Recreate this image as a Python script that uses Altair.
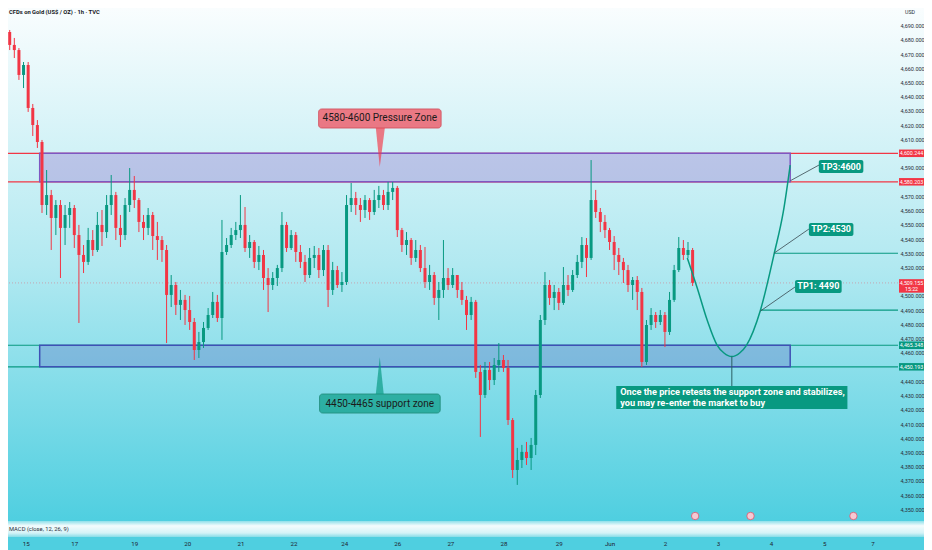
import altair as alt
import pandas as pd

# ---------------- price data: 2-hour candles, XAUUSD (TVC) ----------------
OPEN0 = 4679.9
CLOSE = [
    4685.5, 4676.4, 4672.8, 4655.3, 4662.3, 4632.1, 4620.1, 4608.2, 4563.9, 4570.9,
    4554.8, 4563.9, 4547.8, 4556.9, 4561.8, 4542.8, 4528.8, 4523.9, 4539.3, 4532.3,
    4549.9, 4544.9, 4563.9, 4570.9, 4547.8, 4542.8, 4563.9, 4574.5, 4567.4, 4552.0,
    4547.8, 4556.9, 4542.1, 4539.3, 4532.3, 4500.7, 4507.7, 4493.7, 4497.2, 4490.1,
    4481.7, 4462.0, 4467.6, 4477.5, 4486.6, 4495.8, 4484.5, 4530.9, 4535.8, 4542.8,
    4546.3, 4549.9, 4533.7, 4537.9, 4523.9, 4528.8, 4512.6, 4507.7, 4512.6, 4519.6,
    4549.9, 4533.7, 4542.8, 4530.9, 4523.9, 4514.7, 4526.7, 4528.8, 4518.2, 4532.3,
    4504.2, 4518.2, 4507.7, 4509.8, 4563.9, 4568.8, 4563.9, 4560.4, 4567.4, 4559.0,
    4567.4, 4570.9, 4563.9, 4573.1, 4575.9, 4546.3, 4535.8, 4539.3, 4526.7, 4532.3,
    4519.6, 4509.8, 4514.7, 4498.6, 4504.2, 4512.6, 4507.7, 4514.7, 4504.2, 4497.2,
    4486.6, 4495.8, 4446.6, 4430.4, 4448.0, 4440.9, 4451.5, 4455.0, 4449.4, 4412.8,
    4377.7, 4384.7, 4390.4, 4386.1, 4395.3, 4430.4, 4483.1, 4507.7, 4498.6, 4502.8,
    4495.1, 4507.7, 4504.2, 4514.7, 4523.9, 4535.8, 4526.7, 4567.4, 4559.0, 4552.0,
    4546.3, 4537.9, 4528.8, 4523.9, 4518.2, 4507.7, 4511.2, 4502.8, 4453.6, 4479.6,
    4486.6, 4481.7, 4486.6, 4474.7, 4497.2, 4518.2, 4533.7, 4528.8, 4532.3, 4509.2,
]
HIGH = [
    4689.0, 4686.9, 4681.3, 4674.2, 4664.4, 4664.4, 4634.9, 4623.6, 4609.6, 4588.5,
    4574.5, 4567.4, 4567.4, 4563.9, 4566.0, 4563.9, 4549.9, 4535.8, 4547.8, 4546.3,
    4559.0, 4560.4, 4570.9, 4585.0, 4573.1, 4556.9, 4568.8, 4589.9, 4584.3, 4568.8,
    4556.9, 4561.8, 4559.0, 4552.0, 4542.1, 4535.8, 4514.7, 4509.8, 4504.2, 4500.7,
    4500.0, 4484.5, 4474.7, 4481.7, 4491.5, 4502.8, 4500.7, 4553.4, 4540.7, 4547.8,
    4552.0, 4570.9, 4562.5, 4542.8, 4539.3, 4535.1, 4532.3, 4519.6, 4516.8, 4521.8,
    4559.0, 4552.0, 4546.3, 4544.9, 4535.8, 4528.8, 4533.7, 4535.1, 4533.7, 4535.8,
    4535.8, 4523.9, 4521.1, 4516.8, 4570.9, 4579.4, 4573.1, 4568.8, 4570.9, 4568.8,
    4574.5, 4577.3, 4574.5, 4580.1, 4580.1, 4577.3, 4547.8, 4544.9, 4540.7, 4539.3,
    4535.8, 4534.4, 4521.8, 4516.8, 4509.8, 4539.3, 4519.6, 4519.6, 4514.7, 4509.8,
    4500.0, 4499.3, 4497.2, 4451.5, 4453.6, 4453.6, 4456.4, 4466.9, 4458.5, 4455.0,
    4414.2, 4393.2, 4395.3, 4397.4, 4400.2, 4433.9, 4486.6, 4516.8, 4511.2, 4507.7,
    4505.6, 4520.3, 4514.7, 4518.2, 4528.8, 4541.4, 4540.7, 4595.5, 4574.5, 4561.8,
    4556.9, 4547.8, 4542.1, 4533.7, 4526.7, 4521.8, 4513.3, 4514.0, 4505.6, 4483.1,
    4491.5, 4488.7, 4490.1, 4488.7, 4502.8, 4521.8, 4541.4, 4539.3, 4537.9, 4533.7,
]
LOW = [
    4678.5, 4672.8, 4667.2, 4651.8, 4646.1, 4629.3, 4612.4, 4604.0, 4558.3, 4556.9,
    4532.3, 4542.8, 4512.6, 4535.8, 4547.8, 4533.7, 4481.0, 4516.1, 4521.8, 4528.1,
    4530.9, 4535.1, 4540.7, 4556.9, 4539.3, 4534.4, 4539.3, 4559.0, 4561.8, 4544.9,
    4539.3, 4542.8, 4532.3, 4525.3, 4523.9, 4466.9, 4492.2, 4486.6, 4483.1, 4479.6,
    4476.1, 4455.0, 4456.4, 4463.4, 4476.1, 4484.5, 4481.7, 4469.1, 4528.8, 4533.7,
    4539.3, 4540.7, 4530.9, 4526.7, 4519.6, 4518.2, 4504.2, 4488.7, 4504.2, 4507.0,
    4516.8, 4530.9, 4532.3, 4523.9, 4519.6, 4509.8, 4512.6, 4519.6, 4512.6, 4514.0,
    4492.2, 4500.7, 4505.6, 4502.8, 4507.7, 4559.0, 4556.9, 4552.0, 4554.8, 4553.4,
    4556.9, 4561.8, 4560.4, 4560.4, 4567.4, 4541.4, 4530.9, 4528.8, 4521.8, 4523.9,
    4516.8, 4505.6, 4504.2, 4493.7, 4483.1, 4498.6, 4504.2, 4505.6, 4498.6, 4493.7,
    4476.1, 4483.1, 4442.4, 4400.9, 4428.3, 4433.9, 4437.4, 4446.6, 4446.6, 4409.3,
    4372.1, 4367.2, 4379.1, 4381.2, 4377.7, 4388.2, 4428.3, 4479.6, 4493.7, 4490.1,
    4490.1, 4493.7, 4500.0, 4502.8, 4512.6, 4519.6, 4513.3, 4525.3, 4554.8, 4544.9,
    4540.7, 4532.3, 4518.2, 4514.7, 4509.1, 4502.8, 4497.2, 4490.1, 4450.1, 4451.5,
    4476.1, 4477.5, 4479.6, 4464.1, 4472.6, 4495.8, 4516.8, 4525.3, 4526.7, 4507.0,
]
HOURS = list(range(0, 2 * len(CLOSE), 2))          # hour index of each candle
OPENS = [OPEN0] + CLOSE[:-1]

# ---------------- axes ----------------
DATE_TICK_HOURS = [9, 30, 56, 79, 102, 125, 147, 170, 193, 216, 240, 262, 286, 309, 332, 355, 376]
DATE_TICK_LABELS = ["15", "17", "19", "20", "21", "22", "24", "26", "27", "28", "29",
                    "Jun", "2", "3", "4", "5", "7"]
PRICE_TICKS = [p for p in range(4350, 4700, 10) if p not in (4450, 4510, 4580, 4600)]
VIEW_HOURS = [24 / 7, 2694 / 7]
VIEW_PRICES = [4330.60, 4702.35]

# ---------------- key levels / drawings ----------------
RES_TOP, RES_BOT = 4600.244, 4580.203
SUP_TOP, SUP_BOT = 4465.348, 4450.193
LAST_PRICE, LAST_TIME = 4509.155, "15:22"
ZONE_START, ZONE_END = 15.0, 340.3
TP_LEVELS = [4530, 4490]
TP_START = [333.4, 327.4]

CURVE_H = [295.7, 300.0, 304.3, 308.6, 311.6, 315.0, 318.4, 321.4, 327.4, 333.4, 337.3, 340.3]
CURVE_P = [4526.7, 4505.6, 4483.1, 4465.5, 4459.9, 4457.4, 4459.9, 4465.5, 4490.0, 4530.0, 4559.0, 4592.0]

TP_TEXT = ["TP3:4600", "TP2:4530", "TP1: 4490"]
TP_BOX_H1 = [352.7, 348.4, 342.4]
TP_BOX_H2 = [372.0, 367.7, 362.6]
TP_BOX_P1 = [4586.4, 4542.1, 4502.1]
TP_BOX_P2 = [4595.5, 4551.3, 4511.2]
TP_LINK_H1 = [340.4, 333.4, 327.4]
TP_LINK_P1 = [4581.0, 4530.2, 4489.4]
TP_LINK_H2 = [352.8, 348.4, 342.4]
TP_LINK_P2 = [4592.0, 4547.0, 4506.3]

EVENT_HOURS = [299.1, 323.1, 367.7]

GREEN, RED = "#089981", "#f23645"
FONT = "Roboto"
PLOT_W, PLOT_H = 890, 529

x_scale = alt.Scale(domain=VIEW_HOURS, nice=False, zero=False)
y_scale = alt.Scale(domain=VIEW_PRICES, nice=False, zero=False)

x_axis = alt.Axis(values=DATE_TICK_HOURS, title=None, domain=False, ticks=False, grid=False,
                  labelExpr="[" + ",".join("'%s'" % s for s in DATE_TICK_LABELS) + "][indexof(["
                            + ",".join(str(v) for v in DATE_TICK_HOURS) + "], datum.value)]",
                  labelFontSize=6.2, labelColor="#1f2330", labelFont=FONT, labelPadding=3,
                  labelFlush=False, labelOverlap=False, zindex=1)
y_axis = alt.Axis(orient="right", values=PRICE_TICKS, format=",.3f", title=None, domain=False,
                  ticks=False, grid=False, labelFontSize=5.5, labelPadding=2, labelAlign="left",
                  labelColor="#2a2e39", labelFont=FONT, labelOverlap=False, labelFlush=False,
                  zindex=1)


def X(f):
    return alt.X(f, type="quantitative", scale=x_scale, axis=x_axis)


def Y(f):
    return alt.Y(f, type="quantitative", scale=y_scale, axis=y_axis)


one = pd.DataFrame({"k": [0]})

# ---------------- backgrounds ----------------
bg = alt.Chart(one).mark_rect(
    color=alt.Gradient(gradient="linear", x1=0, x2=0, y1=0, y2=1,
                       stops=[alt.GradientStop(color="#f9fdfe", offset=0),
                              alt.GradientStop(color="#b2e9f1", offset=0.5),
                              alt.GradientStop(color="#4fcfe0", offset=1)])
).encode(x=alt.value(0), x2=alt.value(916), y=alt.value(0), y2=alt.value(513))

macd_band = alt.Chart(one).mark_rect(
    color=alt.Gradient(gradient="linear", x1=0, x2=0, y1=0, y2=1,
                       stops=[alt.GradientStop(color="#8fe0ea", offset=0),
                              alt.GradientStop(color="#f4fcfd", offset=0.3),
                              alt.GradientStop(color="#d4f3f7", offset=0.75),
                              alt.GradientStop(color="#86dde8", offset=1)])
).encode(x=alt.value(0), x2=alt.value(916), y=alt.value(513), y2=alt.value(PLOT_H))

# ---------------- horizontal levels ----------------
lvl = pd.DataFrame({"p": [LAST_PRICE]})
last_line = alt.Chart(lvl).mark_rule(color=RED, opacity=0.45, strokeWidth=0.8,
                                     strokeDash=[1, 2]).encode(y=Y("p"))

red_lv = pd.DataFrame({"p": [RES_TOP, RES_BOT]})
red_lines = alt.Chart(red_lv).mark_rule(color=RED, strokeWidth=1.2).encode(y=Y("p"))
grn_lv = pd.DataFrame({"p": [SUP_TOP, SUP_BOT]})
grn_lines = alt.Chart(grn_lv).mark_rule(color=GREEN, strokeWidth=1.2).encode(y=Y("p"))

tp_df = pd.DataFrame({"h": TP_START, "p": TP_LEVELS})
tp_lines = alt.Chart(tp_df).mark_rule(color=GREEN, strokeWidth=1.2).encode(
    x=X("h"), x2=alt.value(PLOT_W), y=Y("p"))

# ---------------- zones ----------------
res_zone = alt.Chart(pd.DataFrame({"h1": [ZONE_START], "h2": [ZONE_END],
                                   "p1": [RES_BOT], "p2": [RES_TOP]})).mark_rect(
    fill="#9575cd", fillOpacity=0.36, stroke="#7e57c2", strokeWidth=1.5
).encode(x=X("h1"), x2="h2", y=Y("p1"), y2="p2")

sup_zone = alt.Chart(pd.DataFrame({"h1": [ZONE_START], "h2": [ZONE_END],
                                   "p1": [SUP_BOT], "p2": [SUP_TOP]})).mark_rect(
    fill="#5c6bc0", fillOpacity=0.32, stroke="#3f51b5", strokeWidth=1.5
).encode(x=X("h1"), x2="h2", y=Y("p1"), y2="p2")

# ---------------- candles ----------------
candles = pd.DataFrame({"h": HOURS, "open": OPENS, "close": CLOSE, "high": HIGH, "low": LOW})
candles["dir"] = ["up" if c >= o else "down" for o, c in zip(OPENS, CLOSE)]
col = alt.Color("dir:N", scale=alt.Scale(domain=["up", "down"], range=[GREEN, RED]), legend=None)

wicks = alt.Chart(candles).mark_rule(strokeWidth=1, clip=True).encode(
    x=X("h"), y=Y("low"), y2="high", color=col)
bodies = alt.Chart(candles).mark_bar(width=3, clip=True).encode(
    x=X("h"), y=Y("open"), y2="close", color=col)

# ---------------- projected path ----------------
curve = alt.Chart(pd.DataFrame({"h": CURVE_H, "p": CURVE_P})).mark_line(
    color=GREEN, strokeWidth=1.5, interpolate="monotone").encode(x=X("h"), y=Y("p"))

links = alt.Chart(pd.DataFrame({"h1": TP_LINK_H1, "p1": TP_LINK_P1,
                                "h2": TP_LINK_H2, "p2": TP_LINK_P2})).mark_rule(
    color="#37474f", strokeWidth=0.8).encode(x=X("h1"), x2="h2", y=Y("p1"), y2="p2")

tp_boxes = alt.Chart(pd.DataFrame({"h1": TP_BOX_H1, "h2": TP_BOX_H2,
                                   "p1": TP_BOX_P1, "p2": TP_BOX_P2})).mark_rect(
    color=GREEN, cornerRadius=2).encode(x=X("h1"), x2="h2", y=Y("p1"), y2="p2")
tp_text = alt.Chart(pd.DataFrame({
    "h": [(a + b) / 2 for a, b in zip(TP_BOX_H1, TP_BOX_H2)],
    "p": [(a + b) / 2 for a, b in zip(TP_BOX_P1, TP_BOX_P2)],
    "t": TP_TEXT})).mark_text(color="white", fontSize=9, fontWeight="bold", font=FONT,
                              baseline="middle").encode(x=X("h"), y=Y("p"), text="t:N")

# ---------------- callouts ----------------
res_box = alt.Chart(pd.DataFrame({"h1": [135.9], "h2": [189.0], "p1": [4618.0], "p2": [4631.4]})).mark_rect(
    fill=RED, fillOpacity=0.65, stroke="#d04a58", strokeWidth=0.8, cornerRadius=3
).encode(x=X("h1"), x2="h2", y=Y("p1"), y2="p2")
res_ptr = alt.Chart(pd.DataFrame({"h": [160.7, 162.4, 164.6], "b": [4618.0, 4618.0, 4618.0],
                                  "t": [4618.0, 4590.6, 4618.0]})).mark_area(
    color=RED, opacity=0.65).encode(x=X("h"), y=Y("b"), y2="t")
res_txt = alt.Chart(pd.DataFrame({"h": [162.4], "p": [4624.7], "t": ["4580-4600 Pressure Zone"]})).mark_text(
    color="#1b1b1b", fontSize=10, font=FONT, baseline="middle").encode(x=X("h"), y=Y("p"), text="t:N")

sup_box = alt.Chart(pd.DataFrame({"h1": [136.3], "h2": [188.6], "p1": [4417.7], "p2": [4431.1]})).mark_rect(
    fill=GREEN, fillOpacity=0.68, stroke="#1f8a78", strokeWidth=0.8, cornerRadius=3
).encode(x=X("h1"), x2="h2", y=Y("p1"), y2="p2")
sup_ptr = alt.Chart(pd.DataFrame({"h": [160.7, 162.4, 164.1], "b": [4431.1, 4431.1, 4431.1],
                                  "t": [4431.1, 4457.1, 4431.1]})).mark_area(
    color=GREEN, opacity=0.68).encode(x=X("h"), y=Y("b"), y2="t")
sup_txt = alt.Chart(pd.DataFrame({"h": [162.4], "p": [4424.4], "t": ["4450-4465 support zone"]})).mark_text(
    color="#1b1b1b", fontSize=10, font=FONT, baseline="middle").encode(x=X("h"), y=Y("p"), text="t:N")

# ---------------- note box ----------------
drop = alt.Chart(pd.DataFrame({"h": [315.0], "p1": [4457.4], "p2": [4436.7]})).mark_rule(
    color="#2a5f63", strokeWidth=1).encode(x=X("h"), y=Y("p1"), y2="p2")
note_box = alt.Chart(pd.DataFrame({"h1": [264.9], "h2": [365.1], "p1": [4420.6], "p2": [4436.7]})).mark_rect(
    color=GREEN).encode(x=X("h1"), x2="h2", y=Y("p1"), y2="p2")
note_txt = alt.Chart(pd.DataFrame({
    "h": [266.6, 266.6], "p": [4432.4, 4424.6],
    "t": ["Once the price retests the support zone and stabilizes,",
          "you may re-enter the market to buy"]})).mark_text(
    color="white", fontSize=9.2, fontWeight="bold", font=FONT, align="left", baseline="middle"
).encode(x=X("h"), y=Y("p"), text="t:N")

# ---------------- price scale tags ----------------
TAG_X = 903.5
BOX = "M-1,-0.3L1,-0.3L1,0.3L-1,0.3Z"
BOX2 = "M-1,-0.3L1,-0.3L1,0.78L-1,0.78Z"
tags = pd.DataFrame({"p": [RES_TOP, RES_BOT, SUP_TOP, SUP_BOT],
                     "t": [f"{v:,.3f}" for v in [RES_TOP, RES_BOT, SUP_TOP, SUP_BOT]],
                     "c": [RED, RED, GREEN, GREEN]})
tag_boxes = alt.Chart(tags).mark_point(shape=BOX, size=625, filled=True, opacity=1).encode(
    x=alt.value(TAG_X), y=Y("p"), color=alt.Color("c:N", scale=None))
tag_txt = alt.Chart(tags).mark_text(color="white", fontSize=5.3, font=FONT, baseline="middle").encode(
    x=alt.value(TAG_X), y=Y("p"), text="t:N")
last_df = pd.DataFrame({"p": [LAST_PRICE], "t": [f"{LAST_PRICE:,.3f}"], "s": [LAST_TIME]})
last_box = alt.Chart(last_df).mark_point(shape=BOX2, size=625, filled=True, opacity=1, color=RED).encode(
    x=alt.value(TAG_X), y=Y("p"))
last_txt = alt.Chart(last_df).mark_text(color="white", fontSize=5.3, font=FONT, baseline="middle").encode(
    x=alt.value(TAG_X), y=Y("p"), text="t:N")
last_time = alt.Chart(last_df).mark_text(color="white", fontSize=5.3, font=FONT, baseline="middle", dy=6.5).encode(
    x=alt.value(TAG_X), y=Y("p"), text="s:N")

# ---------------- events / captions ----------------
events = alt.Chart(pd.DataFrame({"h": EVENT_HOURS})).mark_point(
    shape="circle", size=55, filled=True, fill="#f6c9d3", stroke="#d9546b", strokeWidth=0.8, opacity=1
).encode(x=X("h"), y=alt.value(508))

caps = pd.DataFrame({"t": ["CFDs on Gold (US$ / OZ) · 1h · TVC"]})
title_txt = alt.Chart(caps).mark_text(align="left", baseline="middle", fontSize=5.8, font=FONT,
                                      fontWeight="bold", color="#131722").encode(
    x=alt.value(1), y=alt.value(4), text="t:N")
usd_txt = alt.Chart(pd.DataFrame({"t": ["USD"]})).mark_text(align="left", baseline="middle", fontSize=5.3,
                                                            font=FONT, color="#2a2e39").encode(
    x=alt.value(897), y=alt.value(4), text="t:N")
macd_txt = alt.Chart(pd.DataFrame({"t": ["MACD (close, 12, 26, 9)"]})).mark_text(
    align="left", baseline="middle", fontSize=5.8, font=FONT, color="#2a2e39").encode(
    x=alt.value(1), y=alt.value(521), text="t:N")

chart = alt.layer(
    bg, macd_band, last_line, red_lines, grn_lines, tp_lines, res_zone, sup_zone,
    wicks, bodies, curve, links, tp_boxes, tp_text,
    res_box, res_ptr, res_txt, sup_box, sup_ptr, sup_txt,
    drop, note_box, note_txt,
    tag_boxes, tag_txt, last_box, last_txt, last_time,
    events, title_txt, usd_txt, macd_txt,
).properties(
    width=PLOT_W, height=PLOT_H,
    autosize=alt.AutoSizeParams(type="none"),
    padding={"left": 0, "top": 0, "right": 26, "bottom": 13},
).configure(background="#4fcfe0").configure_view(stroke=None)

chart.save("out.html", embed_options={"renderer": "svg", "actions": False})
